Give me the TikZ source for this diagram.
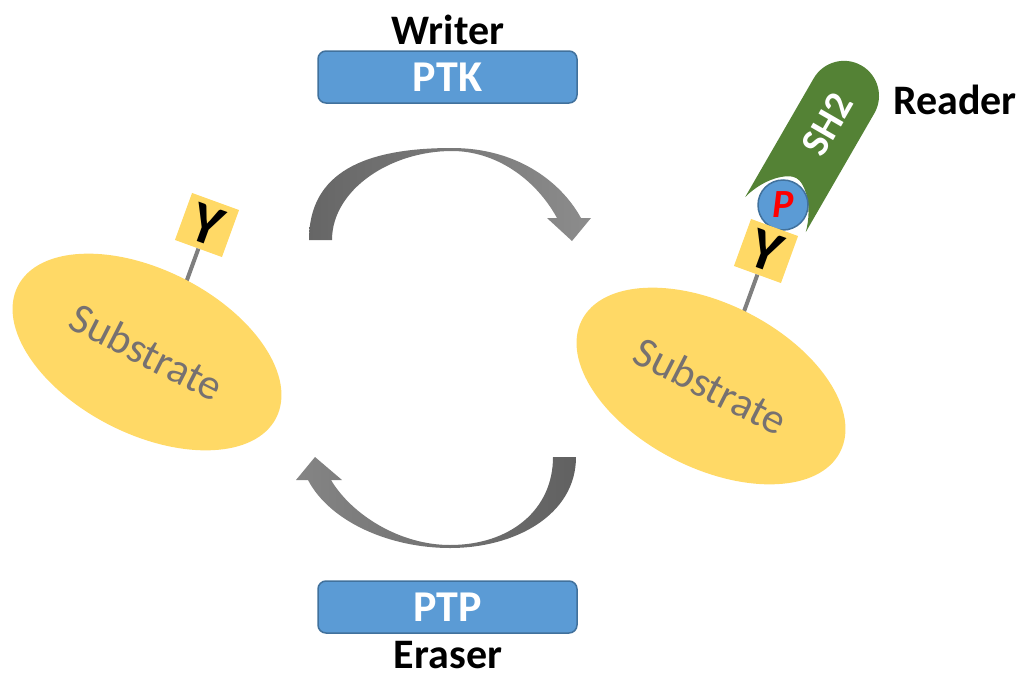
\documentclass[tikz,border=0pt]{standalone}
\usepackage{fontspec}
\setmainfont{Carlito}
\usetikzlibrary{shapes.geometric,calc}
\definecolor{Sub}{HTML}{FFD966}
\definecolor{SubTxt}{HTML}{767171}
\definecolor{Enz}{HTML}{5B9BD5}
\definecolor{EnzLine}{HTML}{41719C}
\definecolor{Grn}{HTML}{548235}
\definecolor{Stick}{HTML}{7F7F7F}
\tikzset{
  substrate/.style={ellipse,fill=Sub,minimum width=290pt,minimum height=164pt,inner sep=0pt,
    text=SubTxt,font=\fontsize{43}{46}\selectfont},
  enzyme/.style={rectangle,rounded corners=8pt,fill=Enz,draw=EnzLine,line width=1.5pt,
    minimum width=259pt,minimum height=52pt,text=white,font=\fontsize{44}{48}\selectfont\bfseries},
  role/.style={inner sep=1pt,text depth=0pt,font=\fontsize{42}{46}\selectfont\bfseries},
  ytag/.style={rectangle,fill=Sub,minimum size=50pt,inner sep=0pt,font=\fontsize{58}{60}\selectfont\bfseries},
  stick/.style={draw=Stick,line width=4pt},
}
\newcommand{\YTag}[3]{%
  \node[ytag,rotate=-20] (#1) at (#2,#3) {Y};%
}

\begin{document}
\begin{tikzpicture}[x=1pt,y=-1pt]
\useasboundingbox (0,0) rectangle (1028,672);
\node[role] (writer) at (448,30) {Writer};
\node[enzyme] (ptk) at (447.5,77) {PTK};
\node[enzyme] (ptp) at (447.5,607) {PTP};
\node[role,anchor=base] (eraser) at (448,668) {Eraser};
\node[role] (reader) at (955,100) {Reader};
\shade[left color=black!60,right color=black!45]
  (309,240) .. controls (309,172) and (365,148) .. (452,148)
  .. controls (515,148) and (560,180) .. (581,218)
  -- (591,218) -- (572,241) -- (547,218) -- (557,218)
  .. controls (535,178) and (495,151) .. (452,151)
  .. controls (390,151) and (332,190) .. (332,240) -- cycle;
\shade[left color=black!48,right color=black!62]
  (576,457) .. controls (576,515) and (515,548) .. (450,548)
  .. controls (390,548) and (330,522) .. (308,480)
  -- (296,480) -- (315,457) -- (342,480) -- (331,480)
  .. controls (352,515) and (400,545) .. (450,545)
  .. controls (510,545) and (553,510) .. (553,457) -- cycle;
\YTag{yl}{207}{225}
\draw[stick] (yl.south) -- ($(yl.center)!2.4!(yl.south)$);
\node[substrate,rotate=-27] (subl) at (147,352) {Substrate};
\begin{scope}[shift={(775.5,214.5)},rotate=-30]
\fill[Grn] (-35,0) -- (-35,-137) arc[start angle=180,end angle=360,radius=35] -- (35,0)
  .. controls (28,-26) and (10,-42) .. (0,-42) .. controls (-10,-42) and (-28,-26) .. (-35,0) -- cycle;
\node[rotate=60,text=white,font=\fontsize{40}{44}\selectfont\bfseries] (sh2) at (0,-104) {SH2};
\end{scope}
\node[circle,fill=Enz,draw=EnzLine,line width=1.5pt,minimum size=50pt,inner sep=0pt,
  text=red,font=\fontsize{40}{44}\selectfont\bfseries\itshape] (phos) at (783,205) {P};
\YTag{yr}{766}{251}
\draw[stick] (yr.south) -- ($(yr.center)!2.6!(yr.south)$);
\node[substrate,rotate=-27] (subr) at (711,386) {Substrate};
\end{tikzpicture}
\end{document}
